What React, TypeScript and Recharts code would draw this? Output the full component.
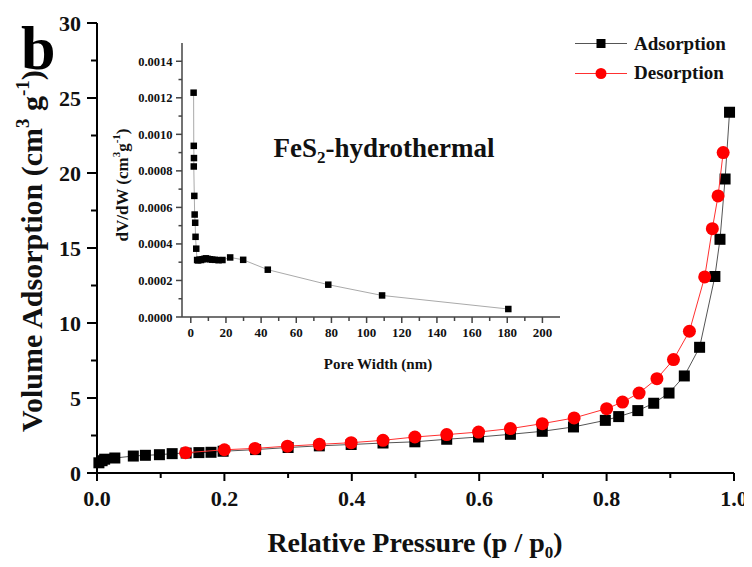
import { ScatterChart, Scatter, XAxis, YAxis } from 'recharts'

const FONT = '"Liberation Serif", "Times New Roman", Times, serif'

// N2 isotherm, relative pressure p/p0 vs volume (cm3 g-1)
const adsorptionP = [0.003, 0.008, 0.012, 0.028, 0.057, 0.076, 0.098, 0.118, 0.14, 0.16, 0.179, 0.198, 0.249, 0.3, 0.349, 0.399, 0.449, 0.499, 0.549, 0.599, 0.649, 0.699, 0.748, 0.798, 0.819, 0.849, 0.874, 0.898, 0.922, 0.946, 0.97, 0.978, 0.986, 0.993]
const adsorptionV = [0.68, 0.82, 0.92, 1.0, 1.13, 1.18, 1.22, 1.29, 1.33, 1.36, 1.38, 1.45, 1.56, 1.7, 1.81, 1.9, 2.0, 2.08, 2.25, 2.4, 2.58, 2.78, 3.07, 3.51, 3.76, 4.16, 4.65, 5.33, 6.47, 8.38, 13.1, 15.58, 19.6, 24.05]
const desorptionP = [0.139, 0.2, 0.248, 0.299, 0.349, 0.399, 0.449, 0.499, 0.549, 0.599, 0.649, 0.699, 0.749, 0.8, 0.825, 0.851, 0.879, 0.905, 0.93, 0.954, 0.966, 0.975, 0.983]
const desorptionV = [1.35, 1.55, 1.64, 1.79, 1.91, 2.02, 2.18, 2.4, 2.56, 2.73, 2.96, 3.29, 3.67, 4.29, 4.73, 5.33, 6.29, 7.56, 9.45, 13.07, 16.29, 18.47, 21.36]

// pore size distribution (inset)
const poreWidth = [1.6, 1.7, 1.8, 1.7, 2.0, 2.2, 2.5, 2.7, 3.1, 3.6, 4.2, 5.0, 5.8, 6.7, 7.6, 8.6, 9.7, 10.9, 12.2, 13.8, 15.8, 18.0, 22.4, 29.8, 43.8, 78.2, 108.8, 180.6]
const poreDV = [0.001228, 0.000937, 0.00087, 0.000824, 0.000663, 0.000561, 0.000516, 0.000439, 0.000374, 0.000312, 0.00031, 0.000314, 0.000312, 0.000316, 0.000318, 0.000321, 0.000318, 0.000316, 0.000314, 0.000313, 0.000311, 0.000312, 0.000326, 0.000313, 0.000259, 0.000177, 0.000118, 0.0000437]

const pressureTicks = [0, 0.1, 0.2, 0.3, 0.4, 0.5, 0.6, 0.7, 0.8, 0.9, 1.0]
const volumeTicks = [0, 2.5, 5, 7.5, 10, 12.5, 15, 17.5, 20, 22.5, 25, 27.5, 30]
const widthTicks = [0, 10, 20, 30, 40, 50, 60, 70, 80, 90, 100, 110, 120, 130, 140, 150, 160, 170, 180, 190, 200]
const dvTicks = [0, 0.0001, 0.0002, 0.0003, 0.0004, 0.0005, 0.0006, 0.0007, 0.0008, 0.0009, 0.001, 0.0011, 0.0012, 0.0013, 0.0014]

const adsorption = adsorptionP.map((p, i) => ({ x: p, y: adsorptionV[i] }))
const desorption = desorptionP.map((p, i) => ({ x: p, y: desorptionV[i] }))
const pores = poreWidth.map((w, i) => ({ x: w, y: poreDV[i] }))

const bottomTick =
  (isMajor: (v: number) => boolean, fmt: (v: number) => string, majorLen: number, minorLen: number, size: number, dy: number, color: string, sw: number) =>
  (props: any) => {
    const { x, y, payload } = props
    const major = isMajor(payload.value)
    return (
      <g>
        <line x1={x} x2={x} y1={y} y2={y + (major ? majorLen : minorLen)} stroke={color} strokeWidth={sw} />
        {major && (
          <text x={x} y={y + dy} textAnchor="middle" fontFamily={FONT} fontWeight="bold" fontSize={size} fill="#111">
            {fmt(payload.value)}
          </text>
        )}
      </g>
    )
  }

const leftTick =
  (isMajor: (v: number) => boolean, fmt: (v: number) => string, majorLen: number, minorLen: number, size: number, dx: number, dy: number, color: string, sw: number) =>
  (props: any) => {
    const { x, y, payload } = props
    const major = isMajor(payload.value)
    return (
      <g>
        <line x1={x} x2={x - (major ? majorLen : minorLen)} y1={y} y2={y} stroke={color} strokeWidth={sw} />
        {major && (
          <text x={x - dx} y={y + dy} textAnchor="end" fontFamily={FONT} fontWeight="bold" fontSize={size} fill="#111">
            {fmt(payload.value)}
          </text>
        )}
      </g>
    )
  }

const square = (s: number) => (p: any) => <rect x={p.cx - s / 2} y={p.cy - s / 2} width={s} height={s} fill="#000" />
const circle = (r: number) => (p: any) => <circle cx={p.cx} cy={p.cy} r={r} fill="#ff0000" />

const txt = { fontFamily: FONT, fontWeight: 'bold' as const, fill: '#111' }

export default function App() {
  return (
    <div style={{ position: 'relative', width: 744, height: 559 }}>
      <div style={{ position: 'absolute', left: 0, top: 0 }}>
        <ScatterChart width={744} height={551} margin={{ top: 15, right: 18, left: 29, bottom: 56 }}>
          <XAxis
            dataKey="x"
            type="number"
            domain={[0, 1]}
            ticks={pressureTicks}
            interval={0}
            height={30}
            tickSize={0}
            tickMargin={0}
            tickLine={false}
            axisLine={{ stroke: '#000', strokeWidth: 2 }}
            tick={bottomTick((v) => Math.round(v * 10) % 2 === 0, (v) => v.toFixed(1), 8, 5, 22, 33, '#000', 2)}
          />
          <XAxis xAxisId="top" orientation="top" type="number" domain={[0, 1]} height={0} tick={false} tickLine={false} axisLine={{ stroke: '#000', strokeWidth: 2 }} />
          <YAxis
            dataKey="y"
            type="number"
            domain={[0, 30]}
            ticks={volumeTicks}
            interval={0}
            width={60}
            tickSize={0}
            tickMargin={0}
            tickLine={false}
            axisLine={{ stroke: '#000', strokeWidth: 2 }}
            tick={leftTick((v) => v % 5 === 0, (v) => String(v), 10, 6, 22, 16, 8, '#000', 2)}
          />
          <YAxis yAxisId="right" orientation="right" type="number" domain={[0, 30]} width={0} tick={false} tickLine={false} axisLine={{ stroke: '#000', strokeWidth: 2 }} />
          <Scatter name="Adsorption" data={adsorption} line={{ stroke: '#555', strokeWidth: 1 }} lineType="joint" shape={square(11)} isAnimationActive={false} />
          <Scatter name="Desorption" data={desorption} line={{ stroke: '#ff3030', strokeWidth: 1 }} lineType="joint" shape={circle(6.5)} isAnimationActive={false} />
        </ScatterChart>
      </div>

      <div style={{ position: 'absolute', left: 130, top: 20 }}>
        <ScatterChart width={432} height={380} margin={{ top: 15, right: 10, left: 0, bottom: 71 }}>
          <XAxis
            dataKey="x"
            type="number"
            domain={[-5, 210]}
            ticks={widthTicks}
            interval={0}
            height={20}
            tickSize={0}
            tickMargin={0}
            tickLine={false}
            axisLine={{ stroke: '#444', strokeWidth: 1.5 }}
            tick={bottomTick((v) => v % 20 === 0, (v) => String(v), 6, 4, 13, 20, '#444', 1.5)}
          />
          <YAxis
            dataKey="y"
            type="number"
            domain={[0, 0.0015]}
            ticks={dvTicks}
            interval={0}
            width={44}
            tickSize={0}
            tickMargin={0}
            tickLine={false}
            axisLine={{ stroke: '#444', strokeWidth: 1.5 }}
            tick={leftTick((v) => Math.round(v * 10000) % 2 === 0, (v) => v.toFixed(4), 6, 3.5, 12.5, 9.5, 4.5, '#444', 1.5)}
          />
          <Scatter data={pores} line={{ stroke: '#aaa', strokeWidth: 1 }} lineType="joint" shape={square(6.5)} isAnimationActive={false} />
        </ScatterChart>
      </div>

      <svg width={744} height={559} style={{ position: 'absolute', left: 0, top: 0, pointerEvents: 'none' }}>
        <text x={13} y={61} {...txt} fill="#000" fontSize={62}>b</text>

        <text transform="translate(34,243) rotate(-90)" textAnchor="middle" {...txt} fontSize={30}>
          Volume Adsorption (cm<tspan fontSize={19} dy={-13}>3</tspan>
          <tspan dy={13}> g</tspan>
          <tspan fontSize={19} dy={-13}>-1</tspan>
          <tspan dy={13}>)</tspan>
        </text>

        <text x={407} y={544} textAnchor="middle" {...txt} fontSize={28}>
          Relative Pressure (p / p<tspan fontSize={17} dy={6}>0</tspan>
          <tspan dy={-6}>)</tspan>
        </text>

        {/* inset labels */}
        <text transform="translate(120,177) rotate(-90)" textAnchor="middle" {...txt} fontSize={17}>
          dV/dW (cm<tspan fontSize={11} dy={-8}>3</tspan>
          <tspan dy={8}>g</tspan>
          <tspan fontSize={11} dy={-8}>-1</tspan>
          <tspan dy={8}>)</tspan>
        </text>
        <text x={370} y={361} textAnchor="middle" {...txt} fontSize={15}>Pore Width (nm)</text>
        <text x={376} y={149} textAnchor="middle" {...txt} fontSize={27}>
          FeS<tspan fontSize={17} dy={6}>2</tspan>
          <tspan dy={-6}>-hydrothermal</tspan>
        </text>

        {/* legend */}
        <g>
          <line x1={567} x2={619} y1={35.5} y2={35.5} stroke="#555" strokeWidth={1} />
          <rect x={588.5} y={31} width={9} height={9} fill="#000" />
          <text x={626} y={42} {...txt} fontSize={19}>Adsorption</text>
          <line x1={567} x2={619} y1={65.5} y2={65.5} stroke="#ff3030" strokeWidth={1} />
          <circle cx={593} cy={65.5} r={5.5} fill="#ff0000" />
          <text x={626} y={71} {...txt} fontSize={19}>Desorption</text>
        </g>
      </svg>
    </div>
  )
}
